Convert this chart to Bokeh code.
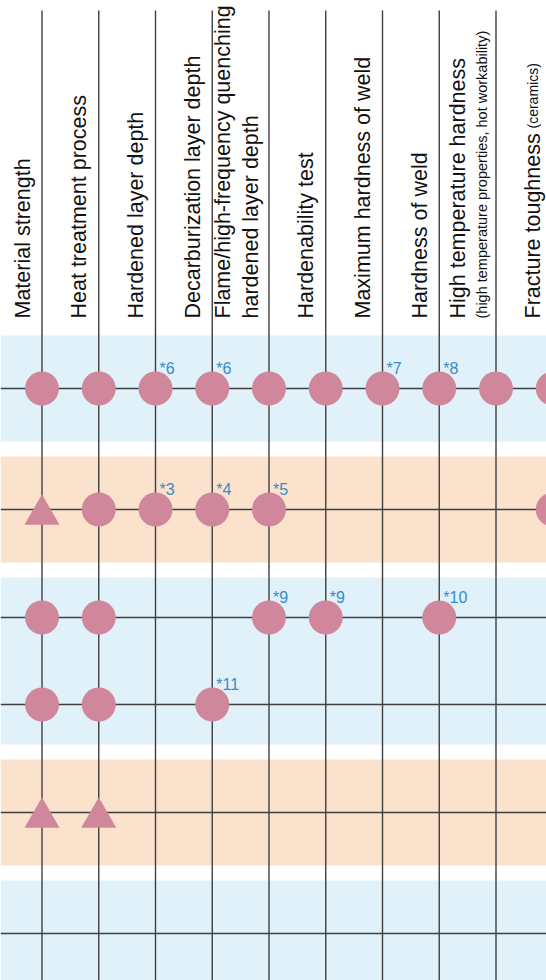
import math
from bokeh.plotting import figure
from bokeh.models import Range1d
from bokeh.core.properties import value
from bokeh.embed import file_html
from bokeh.resources import INLINE

# ---------------- data ----------------
headers = ["Material strength", "Heat treatment process", "Hardened layer depth",
           "Decarburization layer depth", "Flame/high-frequency quenching",
           "Hardenability test", "Maximum hardness of weld", "Hardness of weld",
           "High temperature hardness", "Fracture toughness"]
header_line2 = ["", "", "", "", "hardened layer depth", "", "", "", "", ""]
header_small = ["", "", "", "", "", "", "", "",
                "(high temperature properties, hot workability)", "(ceramics)"]

# rows per band (bands alternate blue / orange)
band_rows = [1, 1, 2, 1, 1]
band_kind = ["blue", "orange", "blue", "orange", "blue"]

# marks per row: c = circle, t = triangle, "" = none
marks = [
    ["c", "c", "c", "c", "c", "c", "c", "c", "c", "c"],
    ["t", "c", "c", "c", "c", "", "", "", "", "c"],
    ["c", "c", "", "", "c", "c", "", "c", "", ""],
    ["c", "c", "", "c", "", "", "", "", "", ""],
    ["t", "t", "", "", "", "", "", "", "", ""],
    ["", "", "", "", "", "", "", "", "", ""],
]
notes = [
    ["", "", "*6", "*6", "", "", "*7", "*8", "", ""],
    ["", "", "*3", "*4", "*5", "", "", "", "", ""],
    ["", "", "", "", "*9", "*9", "", "*10", "", ""],
    ["", "", "", "*11", "", "", "", "", "", ""],
    ["", "", "", "", "", "", "", "", "", ""],
    ["", "", "", "", "", "", "", "", "", ""],
]

# ---------------- layout (pixel units of the page) ----------------
W, H = 546, 980
COL0, COLSTEP = 41.5, 56.75
BAND_TOP0, BAND_H1, BAND_EXTRA, BAND_GAP = 335, 106, 61, 15
ROW_STEP = 87
HEADER_BOTTOM = 318
LINE_TOP = 10

BLUE = "#E0F1FA"
ORANGE = "#FAE2CD"
MARK = "#D0879B"
NOTE = "#3A8CC4"
LINE = "#3f3f3f"
FONT = "Liberation Sans"

col_x = [COL0 + COLSTEP * i for i in range(len(headers))]

band_top, band_bot, band_col, row_y = [], [], [], []
t = BAND_TOP0
for n, kind in zip(band_rows, band_kind):
    h = BAND_H1 + BAND_EXTRA * (n - 1)
    band_top.append(t)
    band_bot.append(t + h)
    band_col.append(BLUE if kind == "blue" else ORANGE)
    c = t + h / 2
    for k in range(n):
        row_y.append(c + (k - (n - 1) / 2) * ROW_STEP)
    t += h + BAND_GAP

p = figure(width=W, height=H, x_range=Range1d(0, W), y_range=Range1d(H, 0),
           output_backend="svg", toolbar_location=None, min_border=0)
p.axis.visible = False
p.grid.visible = False
p.outline_line_color = None
p.background_fill_color = "white"
p.border_fill_color = "white"

# bands
p.quad(left=[0] * len(band_top), right=[W] * len(band_top), top=band_top, bottom=band_bot,
       fill_color=band_col, line_color=None)

# vertical lines
p.segment(x0=col_x, y0=[LINE_TOP] * len(col_x), x1=col_x, y1=[H] * len(col_x),
          line_color=LINE, line_width=1.4)
# horizontal lines
p.segment(x0=[0] * len(row_y), y0=row_y, x1=[W] * len(row_y), y1=row_y,
          line_color=LINE, line_width=1.3)

cx, cy, tx, ty = [], [], [], []
nx, ny, nt = [], [], []
TRI = 35
for r, ry in enumerate(row_y):
    for c, cxv in enumerate(col_x):
        m = marks[r][c]
        if m == "c":
            cx.append(cxv); cy.append(ry)
        elif m == "t":
            tx.append(cxv); ty.append(ry + TRI * math.sqrt(3) / 2 / 6)
        if notes[r][c]:
            nx.append(cxv); ny.append(ry); nt.append(notes[r][c])

p.scatter(x=cx, y=cy, marker="circle", size=34, fill_color=MARK, line_color=None)
p.scatter(x=tx, y=ty, marker="triangle", size=TRI, fill_color=MARK, line_color=None)
p.text(x=nx, y=ny, text=nt, x_offset=4, y_offset=-20, text_font=value(FONT),
       text_font_size="16px", text_color=NOTE, text_baseline="alphabetic", text_align="left")

# headers (rotated, placed just left of their own line)
hx, ht = [], []
for i, (h1, h2, hs) in enumerate(zip(headers, header_line2, header_small)):
    if h2:
        hx += [col_x[i] - 46, col_x[i] - 18]; ht += [h1, h2]
    elif hs and len(hs) > 20:
        hx.append(col_x[i] - 38); ht.append(h1)
    else:
        hx.append(col_x[i] - 19.5); ht.append(h1)

p.text(x=hx, y=[HEADER_BOTTOM] * len(hx), text=ht, angle=math.pi / 2,
       text_font=value(FONT), text_font_size="21.5px", text_color="#111111",
       text_baseline="middle", text_align="left")

# small notes under / after the header
p.text(x=[col_x[8] - 14], y=[HEADER_BOTTOM], text=[header_small[8]], angle=math.pi / 2,
       text_font=value(FONT), text_font_size="14.5px", text_color="#111111",
       text_baseline="middle", text_align="left")
p.text(x=[col_x[9] - 19.5], y=[HEADER_BOTTOM], text=[header_small[9]], angle=math.pi / 2,
       y_offset=-190, text_font=value(FONT), text_font_size="14px", text_color="#111111",
       text_baseline="middle", text_align="left")

open("out.html", "w").write(file_html(p, INLINE))
